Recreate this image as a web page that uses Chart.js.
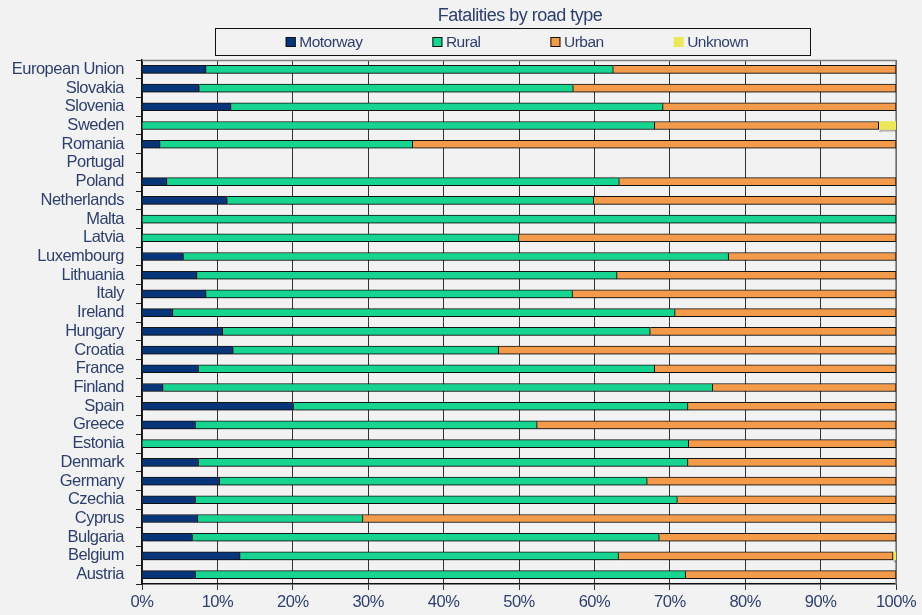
<!DOCTYPE html>
<html>
<head>
<meta charset="utf-8">
<script src="https://cdn.jsdelivr.net/npm/chart.js@4.4.1/dist/chart.umd.min.js"></script>
<style>
  html, body { margin: 0; padding: 0; background: #f2f2f2; }
  #wrap { width: 922px; height: 615px; }
</style>
</head>
<body>
<div id="wrap"><canvas id="c" width="922" height="615"></canvas></div>
<script>
// ---- data ----
const chartTitle = 'Fatalities by road type';
const countries = ['European Union','Slovakia','Slovenia','Sweden','Romania','Portugal','Poland','Netherlands','Malta','Latvia','Luxembourg','Lithuania','Italy','Ireland','Hungary','Croatia','France','Finland','Spain','Greece','Estonia','Denmark','Germany','Czechia','Cyprus','Bulgaria','Belgium','Austria'];
const seriesNames = ['Motorway','Rural','Urban','Unknown'];
const motorway = [8.5, 7.6, 11.8, 0, 2.4, null, 3.3, 11.3, 0, 0, 5.5, 7.3, 8.5, 4.1, 10.7, 12.1, 7.5, 2.8, 20.1, 7.1, 0, 7.5, 10.3, 7.1, 7.4, 6.7, 13.0, 7.1];
const rural    = [54.0, 49.6, 57.3, 68.0, 33.5, null, 60.0, 48.6, 100, 50.0, 72.3, 55.7, 48.6, 66.6, 56.7, 35.2, 60.5, 72.9, 52.3, 45.3, 72.5, 64.9, 56.7, 63.9, 21.9, 61.9, 50.2, 65.0];
const urban    = [37.5, 42.8, 30.9, 29.7, 64.1, null, 36.7, 40.1, 0, 50.0, 22.2, 37.0, 42.9, 29.3, 32.6, 52.7, 32.0, 24.3, 27.6, 47.6, 27.5, 27.6, 33.0, 29.0, 70.7, 31.4, 36.4, 27.9];
const unknown  = [0, 0, 0, 2.3, 0, null, 0, 0, 0, 0, 0, 0, 0, 0, 0, 0, 0, 0, 0, 0, 0, 0, 0, 0, 0, 0, 0.4, 0];
const xTicks = [0, 10, 20, 30, 40, 50, 60, 70, 80, 90, 100];

const TEXT = '#2d3f6c';
const FONT = "'Liberation Sans', Arial, sans-serif";

const headerPlugin = {
  id: 'header',
  afterDraw(chart) {
    const ctx = chart.ctx;
    const ca = chart.chartArea;
    const cx = (ca.left + ca.right) / 2;
    ctx.save();
    ctx.letterSpacing = '-0.5px';
    // title
    ctx.fillStyle = TEXT;
    ctx.font = '18px ' + FONT;
    ctx.textAlign = 'center';
    ctx.textBaseline = 'middle';
    ctx.fillText(chartTitle, cx + 1, 16);
    // legend box
    ctx.strokeStyle = '#111';
    ctx.lineWidth = 1;
    ctx.strokeRect(cx - 303.5, 28.5, 595, 27);
    // legend items
    ctx.font = '15.5px ' + FONT;
    ctx.textAlign = 'left';
    const box = 10, gapText = 3.5, gapItem = 70;
    const ds = chart.data.datasets;
    const widths = ds.map(d => box + gapText + ctx.measureText(d.label).width);
    const total = widths.reduce((a, b) => a + b, 0) + gapItem * (ds.length - 1);
    let x = cx - 2 - total / 2;
    const y = 42;
    ds.forEach((d, i) => {
      ctx.fillStyle = d.backgroundColor;
      ctx.fillRect(x, y - box / 2, box, box);
      if (d.borderWidth) {
        ctx.strokeStyle = '#111';
        ctx.strokeRect(x + 0.5, y - box / 2 + 0.5, box - 1, box - 1);
      }
      ctx.fillStyle = TEXT;
      ctx.fillText(d.label, x + box + gapText, y + 1);
      x += widths[i] + gapItem;
    });
    ctx.restore();
  },
  beforeDatasetsDraw(chart) {
    const ctx = chart.ctx;
    const ca = chart.chartArea;
    ctx.save();
    ctx.strokeStyle = '#808080';
    ctx.lineWidth = 1.5;
    ctx.beginPath();
    ctx.moveTo(ca.left, ca.top + 0.5);
    ctx.lineTo(ca.right, ca.top + 0.5);
    ctx.moveTo(ca.right, ca.top);
    ctx.lineTo(ca.right, ca.bottom);
    ctx.stroke();
    ctx.restore();
    ctx.save();
    ctx.shadowColor = 'rgba(0,0,0,0.28)';
    ctx.shadowOffsetX = 1;
    ctx.shadowOffsetY = 2;
    ctx.shadowBlur = 1;
  },
  afterDatasetsDraw(chart) {
    chart.ctx.restore();
  }
};

const bg = {
  id: 'bg',
  beforeDraw(chart) {
    const ctx = chart.ctx;
    ctx.save();
    ctx.fillStyle = '#f2f2f2';
    ctx.fillRect(0, 0, chart.width, chart.height);
    ctx.restore();
    ctx.letterSpacing = '-0.5px';
  }
};

const colors = ['#06357a', '#17d590', '#f39b4a', '#ede85a'];
const values = [motorway, rural, urban, unknown];

new Chart(document.getElementById('c'), {
  type: 'bar',
  data: {
    labels: countries,
    datasets: seriesNames.map((n, i) => ({
      label: n,
      data: values[i],
      backgroundColor: colors[i],
      borderColor: '#151515',
      borderWidth: i === 3 ? 0 : 1,
      barThickness: 8
    }))
  },
  options: {
    indexAxis: 'y',
    responsive: false,
    animation: false,
    layout: { padding: { top: 60, right: 26, left: 0, bottom: 0 } },
    plugins: {
      legend: { display: false },
      title: { display: false },
      tooltip: { enabled: false }
    },
    scales: {
      x: {
        stacked: true,
        min: 0,
        max: 100,
        afterBuildTicks(scale) { scale.ticks = xTicks.map(v => ({ value: v })); },
        afterFit(scale) { scale.height = 31; },
        ticks: {
          color: TEXT,
          font: { family: FONT, size: 16.5 },
          padding: 3,
          callback: v => v + '%'
        },
        grid: { color: '#333', lineWidth: 1, tickLength: 6, drawTicks: true },
        border: { color: '#111', width: 1.5 }
      },
      y: {
        stacked: true,
        afterFit(scale) { scale.width = 142; },
        ticks: {
          color: TEXT,
          font: { family: FONT, size: 16.5 },
          padding: 12,
          autoSkip: false
        },
        grid: { drawOnChartArea: false, color: '#222', tickLength: 6, offset: true },
        border: { color: '#111', width: 1.5 }
      }
    }
  },
  plugins: [bg, headerPlugin]
});
</script>
</body>
</html>
